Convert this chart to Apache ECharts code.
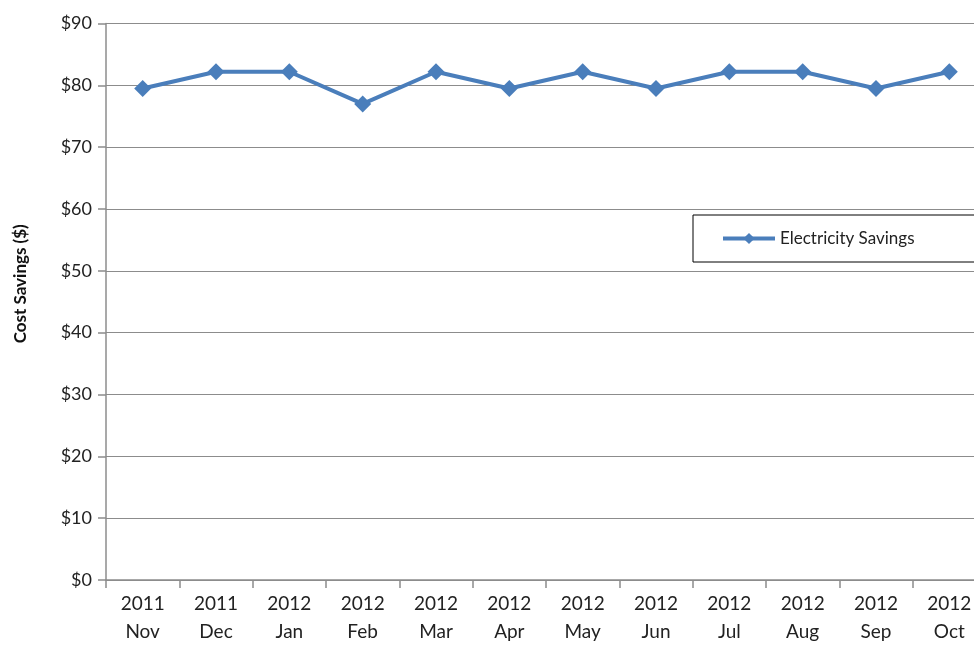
<!DOCTYPE html>
<html>
<head>
<meta charset="utf-8">
<script src="https://cdn.jsdelivr.net/npm/echarts@6/dist/echarts.min.js"></script>
<style>
  html, body { margin: 0; padding: 0; background: #fff; overflow: hidden; width: 974px; height: 654px; }
  #chart { width: 986px; height: 654px; }
</style>
</head>
<body>
<div id="chart"></div>
<script>
// Monthly electricity cost savings, Nov 2011 – Oct 2012
const years = ['2011', '2011', '2012', '2012', '2012', '2012', '2012', '2012', '2012', '2012', '2012', '2012'];
const months = ['Nov', 'Dec', 'Jan', 'Feb', 'Mar', 'Apr', 'May', 'Jun', 'Jul', 'Aug', 'Sep', 'Oct'];
const savings = [79.5, 82.2, 82.2, 77.0, 82.2, 79.5, 82.2, 79.5, 82.2, 82.2, 79.5, 82.2];
const seriesName = 'Electricity Savings';

const categories = years.map((y, i) => y + '\n' + months[i]);
const font = 'Lato, "Open Sans", sans-serif';
const gray = '#8c8c8c';

const chart = echarts.init(document.getElementById('chart'), null, { renderer: 'canvas' });
chart.setOption({
  animation: false,
  backgroundColor: '#fff',
  grid: { left: 106, right: 0, top: 23.5, bottom: 74, containLabel: false },
  legend: {
    data: [seriesName],
    left: 693,
    top: 215,
    orient: 'horizontal',
    itemWidth: 52,
    itemHeight: 14,
    itemGap: 6,
    padding: [15, 60, 15, 28],
    borderColor: '#000',
    borderWidth: 1,
    backgroundColor: '#fff',
    lineStyle: { width: 4 },
    textStyle: { fontFamily: font, fontSize: 17, color: '#222' }
  },
  xAxis: {
    type: 'category',
    data: categories,
    boundaryGap: true,
    axisLine: { lineStyle: { color: gray, width: 1.5 } },
    axisTick: { show: true, length: 8, lineStyle: { color: gray, width: 1.5 } },
    axisLabel: {
      fontFamily: font, fontSize: 19, color: '#222',
      lineHeight: 28, margin: 10, interval: 0
    },
    splitLine: { show: false }
  },
  yAxis: {
    type: 'value',
    min: 0, max: 90, interval: 10,
    name: 'Cost Savings ($)',
    nameLocation: 'middle',
    nameRotate: 90,
    nameGap: 77,
    nameTextStyle: {
      fontFamily: font, fontSize: 17, fontWeight: 'bold', color: '#111',
      padding: [0, 0, 0, 36]
    },
    axisLine: { show: true, lineStyle: { color: gray, width: 1.5 } },
    axisTick: { show: true, length: 8, lineStyle: { color: gray, width: 1.5 } },
    axisLabel: {
      fontFamily: font, fontSize: 18, color: '#222', margin: 14,
      formatter: v => '$' + v
    },
    splitLine: { show: true, lineStyle: { color: gray, width: 1.2 } }
  },
  series: [{
    name: seriesName,
    type: 'line',
    data: savings,
    symbol: 'diamond',
    symbolSize: 17,
    lineStyle: { color: '#4a7ebb', width: 4 },
    itemStyle: { color: '#4a7ebb' }
  }]
});
</script>
</body>
</html>
